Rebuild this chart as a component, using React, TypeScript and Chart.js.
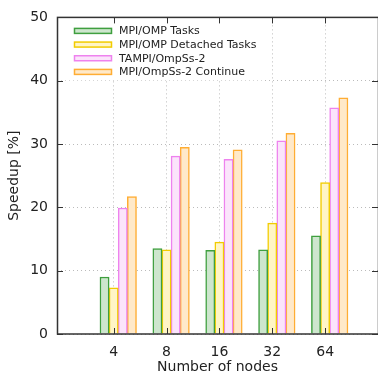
import React, { useEffect, useRef } from 'react';
import { Chart, registerables } from 'chart.js';

Chart.register(...registerables);

// ---- data ----
const nodeCounts = ['4', '8', '16', '32', '64'];
const seriesNames = ['MPI/OMP Tasks', 'MPI/OMP Detached Tasks', 'TAMPI/OmpSs-2', 'MPI/OmpSs-2 Continue'];
const mpiOmpTasks = [9.0, 13.5, 13.2, 13.3, 15.5];
const mpiOmpDetachedTasks = [7.3, 13.3, 14.5, 17.5, 23.9];
const tampiOmpss2 = [19.9, 28.1, 27.6, 30.5, 35.7];
const mpiOmpss2Continue = [21.7, 29.5, 29.1, 31.7, 37.3];
const yTickValues = [0, 10, 20, 30, 40, 50];

// ---- styles ----
const borderColors = ['#3f9f3f', '#f2cc00', '#ee82ee', '#ffad33'];
const fillColors = ['#cde6cd', '#fff5c6', '#fbe4fb', '#ffe9c9'];
const FONT = '"DejaVu Sans", sans-serif';
const TEXT = '#222';
const X_MIN = -1.072;
const X_MAX = 5.0;
const SLOT = 0.1725; // bar slot width in category units
const BAR_PX = 9.2;

const seriesValues = [mpiOmpTasks, mpiOmpDetachedTasks, tampiOmpss2, mpiOmpss2Continue];

const keyPlugin = {
  id: 'keyBox',
  afterDatasetsDraw(chart: any) {
    const { ctx, chartArea: a } = chart;
    ctx.save();
    ctx.fillStyle = '#ffffff';
    ctx.fillRect(a.left + 1, a.top + 1, 205, 62);
    ctx.font = '11px ' + FONT;
    ctx.textBaseline = 'middle';
    ctx.textAlign = 'left';
    chart.data.datasets.forEach((ds: any, i: number) => {
      const y = a.top + 13.5 + i * 13.67;
      ctx.fillStyle = ds.backgroundColor;
      ctx.fillRect(a.left + 17.5, y - 2.5, 37, 5);
      ctx.strokeStyle = ds.borderColor;
      ctx.lineWidth = 1.5;
      ctx.strokeRect(a.left + 17.5, y - 2.5, 37, 5);
      ctx.fillStyle = TEXT;
      ctx.fillText(ds.label, a.left + 62, y + 0.5);
    });
    ctx.restore();
  },
};

const framePlugin = {
  id: 'frameTicks',
  afterDraw(chart: any) {
    const { ctx, chartArea: a, scales } = chart;
    ctx.save();
    ctx.strokeStyle = '#333';
    ctx.lineWidth = 1.5;
    ctx.strokeRect(a.left + 0.5, a.top, a.right - a.left, a.bottom - a.top);
    ctx.lineWidth = 1;
    ctx.beginPath();
    scales.y.ticks.forEach((t: any) => {
      const y = Math.round(scales.y.getPixelForValue(t.value)) + 0.5;
      ctx.moveTo(a.left, y);
      ctx.lineTo(a.left + 6, y);
      ctx.moveTo(a.right, y);
      ctx.lineTo(a.right - 6, y);
    });
    scales.x.ticks.forEach((t: any) => {
      const x = Math.round(scales.x.getPixelForValue(t.value)) + 0.5;
      ctx.moveTo(x, a.bottom);
      ctx.lineTo(x, a.bottom - 6);
      ctx.moveTo(x, a.top);
      ctx.lineTo(x, a.top + 6);
    });
    ctx.stroke();
    ctx.restore();
  },
};

export default function App() {
  const canvasRef = useRef<HTMLCanvasElement | null>(null);

  useEffect(() => {
    if (!canvasRef.current) return;
    const datasets = seriesNames.map((name, k) => ({
      label: name,
      data: seriesValues[k].map((v, i) => ({ x: i + (k - 1) * SLOT, y: v })),
      backgroundColor: fillColors[k],
      borderColor: borderColors[k],
      borderWidth: 1.5,
      borderSkipped: 'start',
      barThickness: BAR_PX,
      grouped: false,
    }));

    const chart = new Chart(canvasRef.current, {
      type: 'bar',
      data: { datasets: datasets as any },
      options: {
        animation: false,
        responsive: false,
        layout: { padding: { top: 12, left: 0, right: -2, bottom: 0 } },
        plugins: { legend: { display: false }, tooltip: { enabled: false } },
        scales: {
          x: {
            type: 'linear',
            min: X_MIN,
            max: X_MAX,
            offset: false,
            afterBuildTicks: (scale: any) => {
              scale.ticks = nodeCounts.map((_, i) => ({ value: i }));
            },
            afterFit: (scale: any) => {
              scale.height = 42;
            },
            ticks: {
              callback: (v: any) => nodeCounts[Math.round(Number(v))] ?? '',
              color: TEXT,
              font: { family: FONT, size: 14 },
              padding: 10,
              maxRotation: 0,
              autoSkip: false,
            },
            grid: { offset: false, color: '#bbbbbb', lineWidth: 1, drawTicks: false },
            border: { display: false, dash: [1, 3] },
            title: {
              display: true,
              text: 'Number of nodes',
              color: TEXT,
              font: { family: FONT, size: 14 },
              padding: { top: 0, bottom: 0 },
            },
          },
          y: {
            min: 0,
            max: 50,
            afterBuildTicks: (scale: any) => {
              scale.ticks = yTickValues.map((v) => ({ value: v }));
            },
            afterFit: (scale: any) => {
              scale.width = 57;
            },
            ticks: {
              color: TEXT,
              font: { family: FONT, size: 14 },
              padding: 9,
            },
            grid: { color: '#bbbbbb', lineWidth: 1, drawTicks: false },
            border: { display: false, dash: [1, 3] },
            title: {
              display: true,
              text: 'Speedup [%]',
              color: TEXT,
              font: { family: FONT, size: 14 },
              padding: { top: 6, bottom: 0 },
            },
          },
        },
      } as any,
      plugins: [keyPlugin, framePlugin],
    });
    return () => chart.destroy();
  }, []);

  return (
    <div style={{ position: 'absolute', left: 0, top: 0, width: 378, height: 376, background: '#fff' }}>
      <canvas ref={canvasRef} width={378} height={376} style={{ display: 'block' }} />
    </div>
  );
}
